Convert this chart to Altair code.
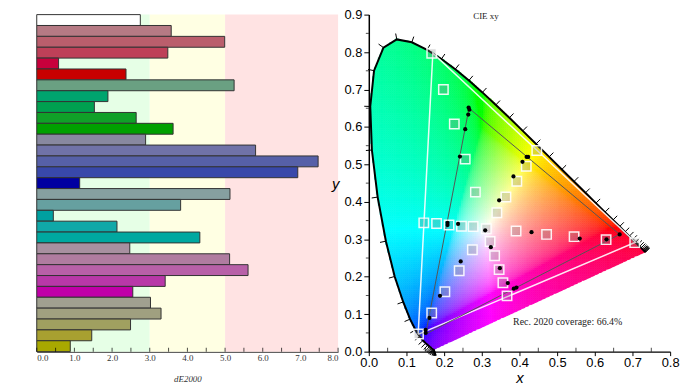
import altair as alt
import numpy as np
import pandas as pd

# ---------------- left panel data ----------------
de_values = [2.75, 3.57, 4.99, 3.48, 0.58, 2.37, 5.24, 1.89, 1.53, 2.64, 3.62,
             2.89, 5.81, 7.47, 6.93, 1.14, 5.13, 3.82, 0.44, 2.13, 4.33,
             2.47, 5.12, 5.61, 3.41, 2.55, 3.02, 3.30, 2.49, 1.46, 0.89]
bar_colors = ["#FFFFFF", "#B67A84", "#BA5E6C", "#BE4058", "#C8003C", "#C80000",
              "#6AA082", "#00A46E", "#00A050", "#10A028", "#00A000",
              "#8888A0", "#7072A8", "#5660A8", "#3848AA", "#0000A0",
              "#86A0A0", "#66A0A0", "#00A0A0", "#10A8A8", "#00A8A0",
              "#A890A0", "#B07CA0", "#B860A8", "#B838A8", "#C000A8",
              "#A0A090", "#A0A080", "#A0A060", "#A8A030", "#A8A800"]
band_start = [0, 3, 5]
band_end = [3, 5, 8]
band_colors = ["#E6FFE6", "#FFFFE3", "#FFE3E3"]
de_label_values = [0, 1, 2, 3, 4, 5, 6, 7, 8]
de_tick_values = [0, 0.5, 1, 1.5, 2, 2.5, 3, 3.5, 4, 4.5, 5, 5.5, 6, 6.5, 7, 7.5, 8]

# ---------------- right panel data ----------------
locus_x = [0.1741, 0.1740, 0.1738, 0.1736, 0.1733, 0.1730, 0.1726, 0.1721, 0.1714, 0.1703,
           0.1689, 0.1669, 0.1644, 0.1611, 0.1566, 0.1510, 0.1440, 0.1355, 0.1241, 0.1096,
           0.0913, 0.0687, 0.0454, 0.0235, 0.0082, 0.0039, 0.0139, 0.0389, 0.0743, 0.1142,
           0.1547, 0.1929, 0.2296, 0.2658, 0.3016, 0.3373, 0.3731, 0.4087, 0.4441, 0.4788,
           0.5125, 0.5448, 0.5752, 0.6029, 0.6270, 0.6482, 0.6658, 0.6801, 0.6915, 0.7006,
           0.7079, 0.7140, 0.7190, 0.7230, 0.7260, 0.7283, 0.7300, 0.7311, 0.7320, 0.7334, 0.7347]
locus_y = [0.0050, 0.0050, 0.0049, 0.0049, 0.0048, 0.0048, 0.0048, 0.0048, 0.0051, 0.0058,
           0.0069, 0.0086, 0.0109, 0.0138, 0.0177, 0.0227, 0.0297, 0.0399, 0.0578, 0.0868,
           0.1327, 0.2007, 0.2950, 0.4127, 0.5384, 0.6548, 0.7502, 0.8120, 0.8338, 0.8262,
           0.8059, 0.7816, 0.7543, 0.7243, 0.6923, 0.6589, 0.6245, 0.5896, 0.5547, 0.5202,
           0.4866, 0.4544, 0.4242, 0.3965, 0.3725, 0.3514, 0.3340, 0.3197, 0.3083, 0.2993,
           0.2920, 0.2859, 0.2809, 0.2770, 0.2740, 0.2717, 0.2700, 0.2689, 0.2680, 0.2666, 0.2653]

rec2020_x = [0.131, 0.170, 0.708, 0.131]
rec2020_y = [0.046, 0.797, 0.292, 0.046]
gamut_x = [0.151, 0.266, 0.666, 0.151]
gamut_y = [0.047, 0.650, 0.313, 0.047]

target_x = [0.167, 0.198, 0.227, 0.256, 0.283, 0.364, 0.393, 0.418, 0.446, 0.340, 0.146,
            0.180, 0.213, 0.246, 0.277, 0.312, 0.391, 0.472, 0.545, 0.630, 0.706, 0.322,
            0.275, 0.334, 0.240, 0.346, 0.356, 0.202, 0.367, 0.167, 0.132]
target_y = [0.797, 0.700, 0.608, 0.514, 0.426, 0.413, 0.455, 0.495, 0.537, 0.371, 0.344,
            0.342, 0.338, 0.335, 0.334, 0.328, 0.322, 0.313, 0.307, 0.299, 0.291, 0.294,
            0.272, 0.256, 0.216, 0.219, 0.184, 0.160, 0.149, 0.103, 0.047]
meas_x = [0.265, 0.267, 0.264, 0.256, 0.242, 0.419, 0.423, 0.408, 0.384, 0.346, 0.209, 0.209,
          0.237, 0.309, 0.432, 0.560, 0.631, 0.666, 0.324, 0.244, 0.348, 0.369, 0.385, 0.392,
          0.189, 0.161, 0.151, 0.151]
meas_y = [0.652, 0.646, 0.633, 0.594, 0.521, 0.520, 0.520, 0.507, 0.468, 0.404, 0.344, 0.338,
          0.341, 0.324, 0.319, 0.302, 0.300, 0.313, 0.279, 0.241, 0.223, 0.183, 0.168, 0.171,
          0.149, 0.090, 0.058, 0.050]
xy_x_labels = [0.0, 0.1, 0.2, 0.3, 0.4, 0.5, 0.6, 0.7, 0.8]
xy_y_labels = [0.0, 0.1, 0.2, 0.3, 0.4, 0.5, 0.6, 0.7, 0.8, 0.9]
xy_x_minor = [0.05, 0.15, 0.25, 0.35, 0.45, 0.55, 0.65, 0.75]
xy_y_minor = [0.05, 0.15, 0.25, 0.35, 0.45, 0.55, 0.65, 0.75, 0.85]
note_text = ["CIE xy", "Rec. 2020 coverage: 66.4%"]
note_x = [0.311, 0.528]
note_y = [0.895, 0.078]
note_size = [9, 10]

# ---------------- left panel ----------------
W, H = 304, 340
xs_de = alt.Scale(domain=[0, 8], nice=False)
de_axis = alt.Axis(values=de_label_values, format=".1f", labelFont="Liberation Serif",
                   labelFontSize=9, labelColor="#333333", ticks=False, tickSize=0,
                   labelPadding=2, domainColor="#000000", domainWidth=1,
                   title="dE2000", titleFont="Liberation Serif", titleFontSize=9,
                   titleFontStyle="italic", titleFontWeight="normal", titleColor="#333333",
                   titleX=152, titleY=27, titleBaseline="middle", titleAlign="center")

bands_df = pd.DataFrame({"start": band_start, "end": band_end, "c": band_colors})
bars_df = pd.DataFrame({"idx": list(range(len(de_values))), "de": de_values, "c": bar_colors})
ticks_df = pd.DataFrame({"t": de_tick_values})

bands = alt.Chart(bands_df).mark_rect().encode(
    x=alt.X("start:Q", scale=xs_de, axis=de_axis),
    x2="end:Q",
    color=alt.Color("c:N", scale=None),
)
bars = alt.Chart(bars_df).mark_bar(stroke="#333333", strokeWidth=1, opacity=1).encode(
    y=alt.Y("idx:O", axis=None, scale=alt.Scale(paddingInner=0, paddingOuter=0)),
    x=alt.X("de:Q", scale=xs_de, axis=de_axis),
    color=alt.Color("c:N", scale=None),
)
de_ticks = alt.Chart(ticks_df).mark_tick(color="#000000", size=4, thickness=1, orient="vertical").encode(
    x=alt.X("t:Q", scale=xs_de, axis=de_axis),
    y=alt.value(H - 2),
)
left = alt.layer(bands, bars, de_ticks).properties(width=W, height=H)

# ---------------- right panel ----------------
poly = np.column_stack([locus_x, locus_y])
step = 0.005
gx, gy = np.meshgrid(np.arange(step / 2, 0.75, step), np.arange(step / 2, 0.85, step))
px, py = gx.ravel(), gy.ravel()
inside = np.zeros(px.shape, dtype=bool)
j = len(poly) - 1
for i in range(len(poly)):
    xi, yi = poly[i]
    xj, yj = poly[j]
    cond = ((yi > py) != (yj > py)) & (px < (xj - xi) * (py - yi) / (yj - yi + 1e-12) + xi)
    inside ^= cond
    j = i
px, py = px[inside], py[inside]
XYZ = np.vstack([px / py, np.ones_like(px), (1 - px - py) / py])
M_srgb = np.array([[3.2406, -1.5372, -0.4986], [-0.9689, 1.8758, 0.0415], [0.0557, -0.2040, 1.0570]])
lin = M_srgb @ XYZ
neg = np.clip(-lin.min(axis=0, keepdims=True), 0, None)
lin = np.clip(lin + 0.6 * neg, 0, None)
lin = lin / lin.max(axis=0, keepdims=True)
rgb = np.where(lin <= 0.0031308, 12.92 * lin, 1.055 * np.power(lin, 1 / 2.4) - 0.055)
rgb = np.clip(np.round(rgb * 255), 0, 255).astype(int)
hexes = ["#%02X%02X%02X" % (r, g, b) for r, g, b in rgb.T]
grid_df = pd.DataFrame({
    "x": np.round(px - step / 2, 4), "x2": np.round(px + step / 2, 4),
    "y": np.round(py - step / 2, 4), "y2": np.round(py + step / 2, 4), "c": hexes,
})

xs = alt.Scale(domain=[0, 0.8], nice=False)
ys = alt.Scale(domain=[0, 0.9], nice=False)
x_axis = alt.Axis(values=xy_x_labels, format=".1f", labelFont="Liberation Sans", labelFontSize=13,
                  labelColor="#000000", tickSize=4, tickColor="#000000", labelPadding=1,
                  domainColor="#000000", domainWidth=1.5, labelFlush=False, zindex=1,
                  title="x", titleFont="Liberation Sans", titleFontSize=15, titleFontStyle="italic",
                  titleFontWeight="normal", titleColor="#000000", titleX=152, titleY=26,
                  titleBaseline="middle", titleAlign="center")
y_axis = alt.Axis(values=xy_y_labels, format=".1f", labelFont="Liberation Sans", labelFontSize=13,
                  labelColor="#000000", tickSize=5, tickColor="#000000", labelPadding=2,
                  domainColor="#000000", domainWidth=1.5, labelFlush=False, zindex=1,
                  title="y", titleFont="Liberation Sans", titleFontSize=15, titleFontStyle="italic",
                  titleFontWeight="normal", titleColor="#000000", titleAngle=0, titleX=-34,
                  titleY=170, titleBaseline="middle", titleAlign="center")


def X(f):
    return alt.X(f, type="quantitative", scale=xs, axis=x_axis)


def Y(f):
    return alt.Y(f, type="quantitative", scale=ys, axis=y_axis)


grid = alt.Chart(grid_df).mark_rect(strokeWidth=0.6).encode(
    x=X("x"), x2="x2", y=Y("y"), y2="y2",
    color=alt.Color("c:N", scale=None), stroke=alt.Stroke("c:N", scale=None),
)

n = len(locus_x)
lx, ly = np.array(locus_x), np.array(locus_y)
tx = np.array([lx[min(i + 1, n - 1)] - lx[max(i - 1, 0)] for i in range(n)])
ty = np.array([ly[min(i + 1, n - 1)] - ly[max(i - 1, 0)] for i in range(n)])
tl = np.hypot(tx, ty) + 1e-12
tick_len = 0.016
wl_df = pd.DataFrame({"x": lx, "y": ly, "x2": lx - ty / tl * tick_len, "y2": ly + tx / tl * tick_len})
locus_df = pd.DataFrame({"x": locus_x, "y": locus_y, "o": list(range(n))})

# white mask hiding the stair-stepped cells just outside the line of purples
dpx, dpy = lx[-1] - lx[0], ly[-1] - ly[0]
dl = np.hypot(dpx, dpy)
off = 0.0045
purple_df = pd.DataFrame({"x": [lx[0] + dpy / dl * off, lx[-1] + dpy / dl * off],
                          "y": [ly[0] - dpx / dl * off, ly[-1] - dpx / dl * off], "o": [0, 1]})
purple_mask = alt.Chart(purple_df).mark_line(color="#FFFFFF", strokeWidth=3.4).encode(
    x=X("x"), y=Y("y"), order="o:Q")

locus_line = alt.Chart(locus_df).mark_line(color="#000000", strokeWidth=2).encode(
    x=X("x"), y=Y("y"), order="o:Q")
wl_ticks = alt.Chart(wl_df).mark_rule(color="#000000", strokeWidth=1).encode(
    x=X("x"), y=Y("y"), x2="x2", y2="y2")

rec_df = pd.DataFrame({"x": rec2020_x, "y": rec2020_y, "o": list(range(4))})
gam_df = pd.DataFrame({"x": gamut_x, "y": gamut_y, "o": list(range(4))})
rec_line = alt.Chart(rec_df).mark_line(color="#FFFFFF", strokeWidth=1.5, opacity=0.9).encode(
    x=X("x"), y=Y("y"), order="o:Q")
gam_line = alt.Chart(gam_df).mark_line(color="#555555", strokeWidth=1).encode(
    x=X("x"), y=Y("y"), order="o:Q")

tgt_df = pd.DataFrame({"x": target_x, "y": target_y})
targets = alt.Chart(tgt_df).mark_point(shape="square", size=90, filled=True, fill="#8C8C8C",
                                       fillOpacity=0.3, stroke="#FFFFFF", strokeWidth=1.5,
                                       strokeOpacity=0.9, opacity=1).encode(x=X("x"), y=Y("y"))
meas_df = pd.DataFrame({"x": meas_x, "y": meas_y})
meas = alt.Chart(meas_df).mark_circle(size=18, color="#000000", opacity=1).encode(x=X("x"), y=Y("y"))

xminor_df = pd.DataFrame({"x": xy_x_minor})
yminor_df = pd.DataFrame({"y": xy_y_minor})
xminor = alt.Chart(xminor_df).mark_tick(color="#000000", size=4, thickness=1, orient="vertical").encode(
    x=X("x"), y=alt.value(H - 2))
yminor = alt.Chart(yminor_df).mark_tick(color="#000000", size=3, thickness=1, orient="horizontal").encode(
    y=Y("y"), x=alt.value(-1.5))

note_df = pd.DataFrame({"t": note_text, "x": note_x, "y": note_y, "s": note_size})
notes = alt.Chart(note_df).mark_text(font="Liberation Serif", color="#222222", baseline="middle",
                                     align="center").encode(
    x=X("x"), y=Y("y"), text="t:N", size=alt.Size("s:Q", scale=None, legend=None))

right = alt.layer(grid, purple_mask, wl_ticks, locus_line, rec_line, gam_line, targets, meas,
                  xminor, yminor, notes).properties(width=W, height=H)

chart = alt.hconcat(left, right, spacing=31, bounds="flush").properties(
    padding={"left": 28, "top": -1, "right": 5, "bottom": 0},
    background="#FFFFFF",
).configure_view(stroke=None).configure_axis(grid=False)

chart.save("out.html", embed_options={"renderer": "svg", "actions": False})
